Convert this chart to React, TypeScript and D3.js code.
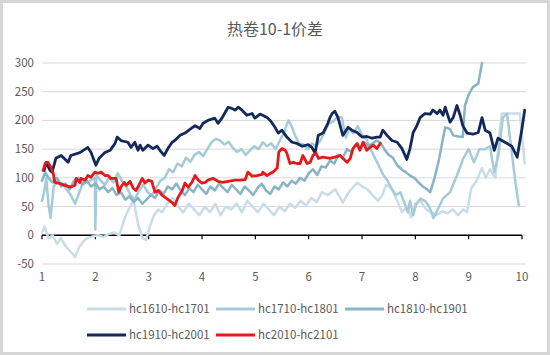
import React from 'react';
import * as d3 from 'd3';

const chartTitle = '热卷10-1价差';
const yTicks = [-50, 0, 50, 100, 150, 200, 250, 300];
const xTicks = [1, 2, 3, 4, 5, 6, 7, 8, 9, 10];
const seriesNames = ['hc1610-hc1701', 'hc1710-hc1801', 'hc1810-hc1901', 'hc1910-hc2001', 'hc2010-hc2101'];

// hc1610-hc1701
const s1610Months = [1.00,1.05,1.12,1.20,1.28,1.35,1.45,1.55,1.62,1.70,1.78,1.85,1.95,2.05,2.15,2.25,2.35,2.45,2.55,2.65,2.72,2.80,2.88,2.95,3.02,3.10,3.18,3.25,3.35,3.45,3.55,3.65,3.75,3.85,3.95,4.05,4.15,4.25,4.35,4.45,4.55,4.65,4.75,4.85,4.95,5.05,5.15,5.25,5.35,5.45,5.55,5.65,5.75,5.85,5.95,6.05,6.15,6.25,6.36,6.50,6.64,6.75,6.91,7.00,7.10,7.20,7.30,7.38,7.45,7.55,7.66,7.75,7.85,7.92,8.00,8.10,8.20,8.30,8.40,8.50,8.60,8.70,8.80,8.90,8.97,9.05,9.15,9.25,9.32,9.40,9.50,9.56,9.62,9.75,9.88,9.96,10.05];
const s1610Values = [5,15,-5,0,-15,-5,-20,-30,-38,-20,-10,-5,-2,0,-3,2,5,0,30,50,60,20,-5,-8,15,35,45,40,55,65,50,40,55,45,35,50,40,55,35,50,45,55,40,60,50,40,55,45,35,50,42,55,48,60,52,65,58,75,70,80,57,75,92,85,80,70,60,70,88,82,60,40,50,31,55,60,45,40,35,42,38,45,35,45,40,82,95,117,100,115,100,160,212,212,212,212,125];

// hc1710-hc1801
const s1710Months = [1.00,1.04,1.08,1.12,1.16,1.22,1.30,1.38,1.46,1.54,1.62,1.70,1.78,1.86,1.94,1.99,2.00,2.02,2.10,2.18,2.26,2.34,2.42,2.50,2.58,2.66,2.74,2.82,2.90,2.98,3.06,3.14,3.22,3.30,3.38,3.46,3.54,3.62,3.70,3.78,3.86,3.94,4.02,4.10,4.18,4.26,4.34,4.42,4.50,4.58,4.66,4.74,4.82,4.90,4.98,5.06,5.14,5.22,5.30,5.38,5.46,5.54,5.62,5.68,5.74,5.82,5.90,5.98,6.06,6.14,6.22,6.30,6.38,6.46,6.54,6.62,6.70,6.76,6.84,6.92,7.00,7.08,7.16,7.24,7.32,7.40,7.48,7.56,7.64,7.72,7.80,7.86,7.90,7.96,8.02,8.10,8.18,8.26,8.34,8.42,8.52,8.65,8.78,8.90,9.00,9.10,9.20,9.30,9.40,9.48,9.56,9.64,9.72,9.80,9.88,9.94];
const s1710Values = [60,75,100,55,30,85,95,90,80,70,55,75,95,92,98,100,10,105,95,88,100,92,108,95,85,70,62,78,88,75,70,82,95,100,115,110,125,120,135,128,140,145,138,150,162,168,165,158,163,152,145,150,140,148,155,150,162,155,160,150,165,180,200,190,175,160,158,150,160,155,165,180,195,198,206,205,170,185,178,190,175,168,150,135,120,105,95,80,70,75,55,40,60,35,55,64,60,50,30,45,64,75,104,134,150,127,150,150,155,110,140,205,212,150,90,52];

// hc1810-hc1901
const s1810Months = [1.00,1.06,1.12,1.20,1.28,1.36,1.44,1.52,1.60,1.68,1.76,1.84,1.92,2.00,2.08,2.16,2.24,2.32,2.40,2.48,2.56,2.64,2.72,2.80,2.88,2.96,3.04,3.12,3.20,3.28,3.36,3.44,3.52,3.60,3.68,3.76,3.84,3.92,4.00,4.08,4.16,4.24,4.32,4.40,4.48,4.56,4.64,4.72,4.80,4.88,4.96,5.04,5.12,5.20,5.28,5.36,5.44,5.52,5.60,5.68,5.76,5.84,5.92,6.00,6.08,6.16,6.24,6.32,6.40,6.48,6.56,6.64,6.72,6.80,6.88,6.96,7.04,7.12,7.20,7.28,7.34,7.42,7.50,7.58,7.66,7.74,7.82,7.90,7.98,8.06,8.14,8.22,8.28,8.36,8.44,8.50,8.56,8.65,8.71,8.80,8.89,8.93,9.00,9.08,9.18,9.25];
const s1810Values = [95,110,100,92,100,85,90,80,95,100,88,95,85,90,80,85,75,82,70,75,62,68,58,65,55,62,70,65,78,72,85,80,90,78,70,82,75,88,80,72,85,78,90,82,75,88,80,72,85,78,70,82,90,78,72,85,80,92,85,95,90,100,95,108,115,105,120,118,130,125,140,135,150,145,158,150,162,155,160,165,162,150,140,135,122,115,110,104,100,92,85,80,75,100,130,160,188,185,174,172,171,226,245,258,264,300];

// hc1910-hc2001
const s1910Months = [1.04,1.08,1.15,1.19,1.26,1.36,1.49,1.54,1.71,1.86,1.92,2.01,2.07,2.18,2.28,2.37,2.41,2.48,2.61,2.67,2.74,2.80,2.84,2.89,2.99,3.08,3.16,3.21,3.29,3.36,3.44,3.49,3.59,3.68,3.78,3.87,3.96,4.02,4.11,4.24,4.30,4.38,4.49,4.56,4.62,4.68,4.75,4.84,4.94,4.99,5.09,5.22,5.28,5.37,5.43,5.50,5.59,5.69,5.78,5.88,5.99,6.06,6.12,6.18,6.27,6.36,6.40,6.44,6.49,6.55,6.64,6.74,6.81,6.91,7.00,7.09,7.19,7.28,7.34,7.39,7.47,7.56,7.66,7.75,7.84,7.90,7.96,8.03,8.09,8.18,8.28,8.33,8.41,8.46,8.52,8.56,8.65,8.71,8.78,8.84,8.89,8.97,9.08,9.18,9.25,9.31,9.40,9.48,9.55,9.68,9.81,9.91,10.0,10.05];
const s1910Values = [113,127,113,110,134,139,127,139,144,153,144,122,134,144,148,160,171,165,162,153,162,148,157,148,157,151,155,148,139,151,162,165,174,178,185,191,186,195,200,204,195,205,223,221,218,223,218,209,212,204,211,205,200,188,178,183,171,162,160,155,158,153,143,174,178,195,205,212,216,205,174,188,183,179,171,172,169,171,171,183,174,165,162,151,132,151,179,191,205,212,211,218,212,218,209,223,197,205,226,209,191,178,176,179,205,183,178,148,169,162,155,136,186,218];

// hc2010-hc2101
const s2010Months = [1.02,1.06,1.11,1.17,1.21,1.24,1.30,1.43,1.54,1.62,1.64,1.71,1.73,1.81,1.86,1.92,1.99,2.05,2.11,2.18,2.24,2.29,2.39,2.44,2.48,2.54,2.58,2.65,2.71,2.76,2.80,2.88,2.93,2.99,3.06,3.08,3.12,3.18,3.25,3.34,3.44,3.49,3.55,3.63,3.68,3.74,3.81,3.87,3.93,4.00,4.06,4.11,4.21,4.30,4.39,4.49,4.62,4.71,4.81,4.86,4.94,5.03,5.13,5.14,5.22,5.28,5.33,5.41,5.44,5.50,5.56,5.59,5.65,5.71,5.78,5.84,5.89,5.97,6.03,6.08,6.14,6.18,6.27,6.40,6.49,6.59,6.64,6.72,6.78,6.83,6.91,6.96,7.02,7.09,7.15,7.21,7.28,7.34];
const s2010Values = [113,125,127,118,108,92,91,87,84,87,99,92,99,96,104,101,110,108,110,104,104,99,99,75,84,92,87,94,82,78,84,99,91,96,94,87,75,78,70,64,57,52,66,78,91,84,92,104,96,91,92,96,99,94,92,94,96,96,97,110,103,104,106,110,104,108,110,117,145,151,148,143,125,127,125,125,139,125,127,139,143,134,136,134,136,139,134,127,134,151,160,148,162,148,153,157,151,160];

const seriesMonths = [s1610Months, s1710Months, s1810Months, s1910Months, s2010Months];
const seriesValues = [s1610Values, s1710Values, s1810Values, s1910Values, s2010Values];

const styles = [
  { color: '#c9dde6', width: 2.5 },
  { color: '#a6cbd8', width: 2.5 },
  { color: '#88b5c6', width: 2.5 },
  { color: '#14295a', width: 2.8 },
  { color: '#e3191c', width: 2.8 },
];

const W = 550;
const H = 355;
const font = '"Noto Sans CJK SC", "Noto Sans", sans-serif';

export default function App() {
  const x = d3.scaleLinear().domain([1, 10]).range([42, 522]);
  const y = d3.scaleLinear().domain([-50, 300]).range([264, 63]);
  const line = d3
    .line<[number, number]>()
    .x((d) => x(d[0]))
    .y((d) => y(d[1]));

  const legendPos = [
    { x: 87, y: 309 },
    { x: 216, y: 309 },
    { x: 345, y: 309 },
    { x: 87, y: 335 },
    { x: 216, y: 335 },
  ];

  return (
    <svg
      width={W}
      height={H}
      style={{ position: 'fixed', left: 0, top: 0, display: 'block', background: '#fff' }}
    >
      <rect x={0} y={0} width={W} height={H} fill="#d6d6d6" />
      <rect x={3} y={3} width={W - 6} height={H - 6} fill="#ffffff" />
      <text
        x={275}
        y={35}
        textAnchor="middle"
        fontFamily={font}
        fontSize={16}
        fill="#595959"
      >
        {chartTitle}
      </text>
      {yTicks.map((t) => (
        <g key={'y' + t}>
          <line x1={42} x2={526} y1={y(t)} y2={y(t)} stroke="#d9d9d9" strokeWidth={1} />
          <text
            x={34}
            y={y(t) + 4}
            textAnchor="end"
            fontFamily={font}
            fontSize={11.5}
            fill="#595959"
          >
            {t}
          </text>
        </g>
      ))}
      <line x1={42} x2={522} y1={y(0)} y2={y(0)} stroke="#000" strokeWidth={1.5} />
      {xTicks.map((t) => (
        <g key={'x' + t}>
          <line x1={x(t)} x2={x(t)} y1={y(0)} y2={y(0) + 4} stroke="#000" strokeWidth={1.2} />
          <text
            x={x(t)}
            y={281}
            textAnchor="middle"
            fontFamily={font}
            fontSize={11.5}
            fill="#595959"
          >
            {t}
          </text>
        </g>
      ))}
      {seriesNames.map((name, i) => {
        const pts: [number, number][] = seriesMonths[i].map((m, j) => [m, seriesValues[i][j]]);
        return (
          <path
            key={name}
            d={line(pts) || ''}
            fill="none"
            stroke={styles[i].color}
            strokeWidth={styles[i].width}
            strokeLinejoin="round"
            strokeLinecap="round"
          />
        );
      })}
      {seriesNames.map((name, i) => (
        <g key={'lg' + name}>
          <line
            x1={legendPos[i].x}
            x2={legendPos[i].x + 39}
            y1={legendPos[i].y}
            y2={legendPos[i].y}
            stroke={styles[i].color}
            strokeWidth={3}
          />
          <text
            x={legendPos[i].x + 42}
            y={legendPos[i].y + 4}
            fontFamily={font}
            fontSize={11.5}
            fill="#595959"
          >
            {name}
          </text>
        </g>
      ))}
    </svg>
  );
}
